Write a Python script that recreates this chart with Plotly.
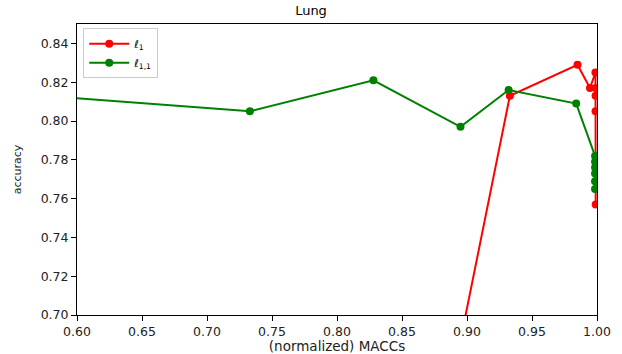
import plotly.graph_objects as go

# Accuracy versus normalized MACCs for the Lung dataset
l1_macc = [0.870, 0.933, 0.985, 0.9946, 0.9988, 0.9990, 0.9989, 0.9989, 0.9990]
l1_acc = [0.604, 0.813, 0.829, 0.817, 0.825, 0.817, 0.813, 0.805, 0.757]

l11_macc = [0.500, 0.733, 0.828, 0.895, 0.932, 0.984, 0.9985, 0.9985, 0.9985, 0.9985, 0.9985, 0.9985]
l11_acc = [0.8167, 0.805, 0.821, 0.797, 0.816, 0.809, 0.782, 0.779, 0.776, 0.773, 0.769, 0.765]

x_ticks = [0.60, 0.65, 0.70, 0.75, 0.80, 0.85, 0.90, 0.95, 1.00]
y_ticks = [0.70, 0.72, 0.74, 0.76, 0.78, 0.80, 0.82, 0.84]

fig = go.Figure()
fig.add_trace(go.Scatter(
    x=l1_macc, y=l1_acc, mode="lines+markers", name="<i>ℓ</i><sub>1</sub>",
    line=dict(color="#ff0000", width=2), marker=dict(color="#ff0000", size=8),
))
fig.add_trace(go.Scatter(
    x=l11_macc, y=l11_acc, mode="lines+markers", name="<i>ℓ</i><sub>1,1</sub>",
    line=dict(color="#008000", width=2), marker=dict(color="#008000", size=8),
))

axis_common = dict(
    showline=True, linecolor="black", linewidth=1, mirror=True, automargin=False,
    ticks="outside", ticklen=5, tickcolor="black", showgrid=False, zeroline=False,
    tickfont=dict(family="DejaVu Sans", size=12.5, color="#222222"),
)

fig.update_layout(
    width=622, height=354,
    margin=dict(l=77, r=25, t=24, b=39),
    paper_bgcolor="white", plot_bgcolor="white",
    title=dict(text="Lung", x=0.5, xanchor="center", y=0.97, yanchor="middle",
               font=dict(family="DejaVu Sans", size=13, color="black")),
    xaxis=dict(range=[0.60, 1.00], tickvals=x_ticks, ticktext=[f"{v:.2f}" for v in x_ticks],
               title=dict(text="(normalized) MACCs", standoff=0,
                          font=dict(family="DejaVu Sans", size=13.5, color="#222222")),
               **axis_common),
    yaxis=dict(range=[0.70, 0.85], tickvals=y_ticks, ticktext=[f"{v:.2f}" for v in y_ticks],
               title=dict(text="accuracy", standoff=16,
                          font=dict(family="DejaVu Sans", size=11, color="#222222")),
               **axis_common),
    legend=dict(x=0.012, y=0.985, xanchor="left", yanchor="top",
                bordercolor="#cccccc", borderwidth=1, bgcolor="rgba(255,255,255,0.8)",
                font=dict(family="DejaVu Sans", size=11, color="black"),
                itemwidth=40, tracegroupgap=0),
    showlegend=True,
)

fig.write_html("out.html")
